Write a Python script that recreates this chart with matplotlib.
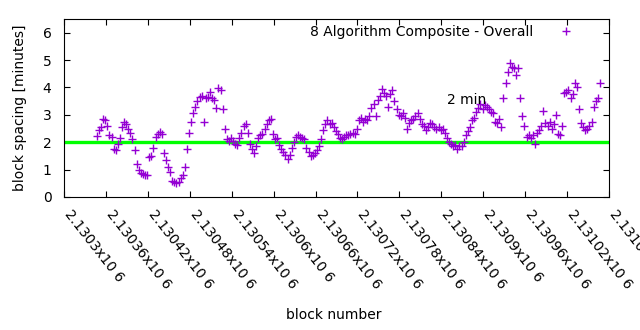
import numpy as np
import matplotlib
matplotlib.use("Agg")
import matplotlib.pyplot as plt

# Block spacing (minutes), sampled every 3rd block starting at block 2130347
first_block = 2130347
block_step = 3
spacing = [
    2.22, 2.45, 2.55, 2.85, 2.82, 2.60, 2.25, 2.20, 1.75, 1.70,
    1.95, 2.15, 2.55, 2.75, 2.68, 2.50, 2.35, 2.10, 1.72, 1.22,
    1.00, 0.88, 0.85, 0.80, 0.82, 1.45, 1.50, 1.80, 2.20, 2.30,
    2.38, 2.30, 1.60, 1.35, 1.10, 0.90, 0.60, 0.55, 0.50, 0.55,
    0.68, 0.82, 1.10, 1.75, 2.35, 2.75, 3.05, 3.30, 3.50, 3.65,
    3.70, 2.75, 3.60, 3.65, 3.85, 3.60, 3.55, 3.25, 3.98, 3.90,
    3.20, 2.50, 2.10, 2.05, 2.15, 2.05, 1.95, 1.90, 2.15, 2.35,
    2.60, 2.65, 2.35, 1.95, 1.75, 1.60, 1.85, 2.15, 2.25, 2.30,
    2.50, 2.65, 2.80, 2.85, 2.30, 2.10, 2.15, 1.90, 1.75, 1.65,
    1.55, 1.40, 1.55, 1.80, 2.00, 2.20, 2.25, 2.20, 2.15, 2.10,
    1.80, 1.65, 1.50, 1.55, 1.60, 1.70, 1.85, 2.10, 2.45, 2.65,
    2.80, 2.65, 2.70, 2.55, 2.40, 2.30, 2.15, 2.10, 2.20, 2.25,
    2.25, 2.30, 2.35, 2.30, 2.50, 2.80, 2.90, 2.75, 2.85, 2.80,
    2.95, 3.25, 3.40, 2.95, 3.55, 3.70, 3.95, 3.80, 3.70, 3.30,
    3.75, 3.90, 3.50, 3.20, 3.00, 2.95, 3.05, 2.90, 2.50, 2.70,
    2.80, 2.85, 2.95, 3.05, 2.85, 2.65, 2.60, 2.45, 2.55, 2.70,
    2.65, 2.55, 2.50, 2.55, 2.45, 2.50, 2.35, 2.15, 2.00, 1.95,
    1.85, 1.90, 1.75, 1.85, 1.85, 2.00, 2.25, 2.40, 2.55, 2.80,
    2.90, 3.10, 3.25, 3.40, 3.20, 3.35, 3.30, 3.20, 3.10, 3.05,
    2.75, 2.70, 2.85, 2.55, 3.60, 4.15, 4.55, 4.90, 4.75, 4.70,
    4.45, 4.70, 3.60, 2.95, 2.60, 2.20, 2.25, 2.15, 2.25, 1.95,
    2.35, 2.45, 2.60, 3.15, 2.70, 2.60, 2.75, 2.50, 2.65, 3.00,
    2.30, 2.25, 2.60, 3.80, 3.85, 3.90, 3.60, 3.75, 4.15, 4.00,
    3.20, 2.70, 2.55, 2.45, 2.50, 2.60, 2.75, 3.30, 3.50, 3.60, 4.15,
]
blocks = first_block + block_step * np.arange(len(spacing))

target_minutes = 2
x_start, x_end, x_tick_step = 2130300, 2131080, 60
series_label = "8 Algorithm Composite - Overall"

plt.rcParams["font.family"] = "DejaVu Sans"
plt.rcParams["font.size"] = 10

fig = plt.figure(figsize=(6.4, 3.3), dpi=100)
ax = fig.add_axes([64 / 640, 1 - 197 / 330, 545 / 640, 178 / 330])

ax.axhline(target_minutes, color="#00ff00", linewidth=2.4, zorder=2)
ax.plot(blocks, spacing, linestyle="none", marker="+", markersize=6,
        markeredgewidth=1.0, color="#9400d3", label=series_label, zorder=3)
ax.text(2130848, 3.55, "2 min", ha="left", va="center", zorder=4)

ax.set_xlim(x_start, x_end)
ax.set_ylim(0, 6.5)
xticks = np.arange(x_start, x_end + 1, x_tick_step)
ax.set_xticks(xticks)
ax.set_xticklabels([f"{v / 1e6:g}x10 6" for v in xticks], rotation=-52,
                   ha="left", va="baseline", rotation_mode="anchor")
ax.set_yticks(range(0, 7))
ax.tick_params(direction="in", length=4, width=0.8, top=True, right=True)
ax.tick_params(axis="x", pad=12)
ax.tick_params(axis="y", pad=9)
for spine in ax.spines.values():
    spine.set_linewidth(0.8)

ax.set_ylabel("block spacing [minutes]", labelpad=11)
fig.text(334 / 640, 1 - 315 / 330, "block number", ha="center", va="center")

ax.legend(loc="center right", bbox_to_anchor=(580 / 640, 1 - 32 / 330),
          bbox_transform=fig.transFigure, frameon=False, markerfirst=False,
          borderpad=0, borderaxespad=0, handlelength=2.0, handletextpad=1.4)

fig.savefig("out.png", dpi=100)
